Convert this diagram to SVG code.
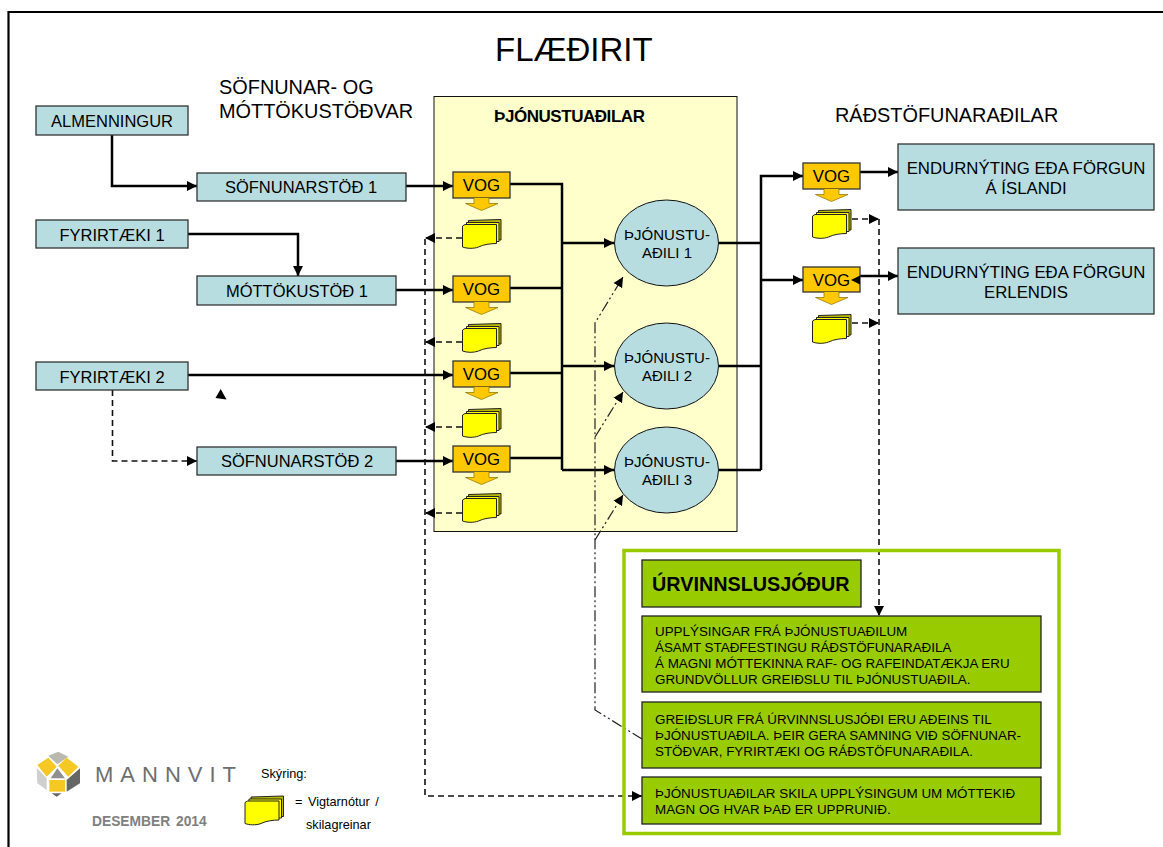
<svg xmlns="http://www.w3.org/2000/svg" width="1163" height="847" viewBox="0 0 1163 847">
<style>
text{font-family:"Liberation Sans",Arial,sans-serif;fill:#000}
.box{fill:#b7dde1;stroke:#333;stroke-width:1.3}
.vog{fill:#ffc800;stroke:#333;stroke-width:1.3}
.grn{fill:#99cc00;stroke:#222;stroke-width:1.3}
.n{font-size:16.5px;text-anchor:middle}
.v{font-size:16.8px;text-anchor:middle}
.e{font-size:15px;text-anchor:middle}
.r{font-size:16.8px;text-anchor:middle}
.t{font-size:13.4px}
.h{font-size:19.9px}
.l{fill:none;stroke:#000;stroke-width:2.5}
.a{marker-end:url(#ah)}
.d{fill:none;stroke:#111;stroke-width:1.6;stroke-dasharray:6 4}
.dd{fill:none;stroke:#222;stroke-width:1.2;stroke-dasharray:11 3 2 3 2 3}
.s{font-size:12.7px}
</style>
<defs>
<marker id="ah" markerUnits="userSpaceOnUse" markerWidth="11" markerHeight="11" refX="10" refY="5.500" orient="auto"><path d="M0 .5L10 5.500L0 10.500Z" fill="#000"/></marker>
<symbol id="doc" overflow="visible">
<path d="M6 1L38.500 0V20.500H6Z" fill="#b8b800" stroke="#222"/>
<path d="M4 3H36.500V22H4Z" fill="#ffff00" stroke="#222"/>
<path d="M0 6.500L2.500 5H34V24C28 24 21 25 16 27.500C11 29.500 4 29 0 27.500Z" fill="#ffff00" stroke="#222"/>
</symbol>
<symbol id="dn" overflow="visible">
<path d="M21 0V5.500H12.500L28.500 12.500L45 5.500H36V0" fill="#ffc800" stroke="#8a6d00" stroke-width=".7"/>
</symbol>
</defs>
<rect width="1163" height="847" fill="#fff"/>
<path d="M8.500 847V12H1163" fill="none" stroke="#000" stroke-width="2.200"/>
<g id="titles">
<text x="495" y="61" font-size="33">FLÆÐIRIT</text>
<text class="h" x="219" y="94">SÖFNUNAR- OG</text>
<text class="h" x="219" y="118">MÓTTÖKUSTÖÐVAR</text>
<text class="h" x="835" y="122">RÁÐSTÖFUNARAÐILAR</text>
</g>
<g id="panel">
<rect x="434" y="96.500" width="303" height="435" fill="#ffffcc" stroke="#111" stroke-width="1"/>
<text x="494" y="122" font-size="17" font-weight="bold" letter-spacing="-.45">ÞJÓNUSTUAÐILAR</text>
</g>
<g id="connectors">
<path class="l a" d="M112 135V186H197"/>
<path class="l a" d="M406 186H453"/>
<path class="l a" d="M188 234H298V276"/>
<path class="l a" d="M396 290H453"/>
<path class="l a" d="M188 375H453"/>
<path class="l a" d="M396 461H453"/>
<path class="d a" d="M112.500 390V461H197"/>
<path class="l" d="M510 184H562V470"/>
<path class="l" d="M510 288H562M510 373H562M510 458H562"/>
<path class="l a" d="M562 243H614"/>
<path class="l a" d="M562 366H614"/>
<path class="l a" d="M562 470H614"/>
<path class="l" d="M719 243H761M719 366H761M719 470H761"/>
<path class="l a" d="M761 470V176H803"/>
<path class="l a" d="M761 280H803"/>
<path class="l a" d="M860 172H898"/>
<path class="l a" d="M860 276H898"/>
<path class="d a" d="M462 238H425"/>
<path class="d a" d="M462 342H425"/>
<path class="d a" d="M462 427H425"/>
<path class="d a" d="M462 513H425"/>
<path class="d a" d="M425 239V796H642"/>
<path class="d a" d="M852 219H879"/>
<path class="d a" d="M852 323H879"/>
<path class="d a" d="M879 219V616"/>
<path class="dd a" d="M642 739L595 710V323L623 277"/>
<path class="dd a" d="M595 437L623 392"/>
<path class="dd a" d="M595 540L623 495"/>
</g>
<g id="almenningur"><rect class="box" x="36" y="106" width="152" height="29"/><text class="n" x="112" y="127">ALMENNINGUR</text></g>
<g id="fyrirtaeki1"><rect class="box" x="36" y="220" width="152" height="28"/><text class="n" x="112" y="241">FYRIRTÆKI 1</text></g>
<g id="fyrirtaeki2"><rect class="box" x="36" y="362" width="152" height="28"/><text class="n" x="112" y="383">FYRIRTÆKI 2</text></g>
<g id="sofnunarstod1"><rect class="box" x="197" y="173" width="209" height="28"/><text class="n" x="301" y="193">SÖFNUNARSTÖÐ 1</text></g>
<g id="mottokustod1"><rect class="box" x="197" y="276" width="199" height="29"/><text class="n" x="297" y="297">MÓTTÖKUSTÖÐ 1</text></g>
<g id="sofnunarstod2"><rect class="box" x="197" y="447" width="199" height="28"/><text class="n" x="297" y="467">SÖFNUNARSTÖÐ 2</text></g>
<g id="vog1"><rect class="vog" x="453" y="172" width="57" height="26"/><text class="v" x="481.500" y="191">VOG</text><use href="#dn" x="453" y="198"/><use href="#doc" x="462.500" y="219.500"/></g>
<g id="vog2"><rect class="vog" x="453" y="276" width="57" height="26"/><text class="v" x="481.500" y="295">VOG</text><use href="#dn" x="453" y="302"/><use href="#doc" x="462.500" y="323.500"/></g>
<g id="vog3"><rect class="vog" x="453" y="361" width="57" height="26"/><text class="v" x="481.500" y="380">VOG</text><use href="#dn" x="453" y="387"/><use href="#doc" x="462.500" y="408.500"/></g>
<g id="vog4"><rect class="vog" x="453" y="446" width="57" height="26"/><text class="v" x="481.500" y="465">VOG</text><use href="#dn" x="453" y="472"/><use href="#doc" x="462.500" y="493.500"/></g>
<g id="vog5"><rect class="vog" x="803" y="163" width="57" height="26"/><text class="v" x="831.500" y="182">VOG</text><use href="#dn" x="803" y="189"/><use href="#doc" x="812.500" y="209.500"/></g>
<g id="vog6"><rect class="vog" x="803" y="267" width="57" height="25"/><text class="v" x="831.500" y="286">VOG</text><use href="#dn" x="803" y="292"/><use href="#doc" x="812.500" y="314.500"/><path d="M851 280L860 275.500V284.500Z" fill="#000"/></g>
<g id="ellipse1"><ellipse cx="666.500" cy="243" rx="52" ry="43" fill="#b7dde1" stroke="#111" stroke-width="1"/><text class="e" x="667" y="240">ÞJÓNUSTU-</text><text class="e" x="667" y="258">AÐILI 1</text></g>
<g id="ellipse2"><ellipse cx="666.500" cy="366" rx="52" ry="43" fill="#b7dde1" stroke="#111" stroke-width="1"/><text class="e" x="667" y="363">ÞJÓNUSTU-</text><text class="e" x="667" y="381">AÐILI 2</text></g>
<g id="ellipse3"><ellipse cx="666.500" cy="470" rx="52" ry="43" fill="#b7dde1" stroke="#111" stroke-width="1"/><text class="e" x="667" y="467">ÞJÓNUSTU-</text><text class="e" x="667" y="485">AÐILI 3</text></g>
<g id="endurnyting-island"><rect class="box" x="898" y="144" width="256" height="66"/><text class="r" x="1026" y="174">ENDURNÝTING EÐA FÖRGUN</text><text class="r" x="1026" y="194">Á ÍSLANDI</text></g>
<g id="endurnyting-erlendis"><rect class="box" x="898" y="248" width="256" height="66"/><text class="r" x="1026" y="278">ENDURNÝTING EÐA FÖRGUN</text><text class="r" x="1026" y="298">ERLENDIS</text></g>
<path d="M220.700 389L215.500 398L226.500 399.500Z" fill="#000"/>
<g id="urvinnslusjodur">
<rect x="624" y="550.500" width="435" height="283" fill="none" stroke="#99cc00" stroke-width="3.500"/>
<rect class="grn" x="642" y="560" width="219" height="47"/>
<text x="652" y="591" font-size="19.800" font-weight="bold">ÚRVINNSLUSJÓÐUR</text>
</g>
<g id="upplysingar"><rect class="grn" x="642" y="616" width="399" height="76"/>
<text class="t" x="655" y="636">UPPLÝSINGAR FRÁ ÞJÓNUSTUAÐILUM</text>
<text class="t" x="655" y="652">ÁSAMT STAÐFESTINGU RÁÐSTÖFUNARAÐILA</text>
<text class="t" x="655" y="668">Á MAGNI MÓTTEKINNA RAF- OG RAFEINDATÆKJA ERU</text>
<text class="t" x="655" y="684">GRUNDVÖLLUR GREIÐSLU TIL ÞJÓNUSTUAÐILA.</text></g>
<g id="greidslur"><rect class="grn" x="642" y="702" width="399" height="66"/>
<text class="t" x="655" y="724">GREIÐSLUR FRÁ ÚRVINNSLUSJÓÐI ERU AÐEINS TIL</text>
<text class="t" x="655" y="740">ÞJÓNUSTUAÐILA. ÞEIR GERA SAMNING VIÐ SÖFNUNAR-</text>
<text class="t" x="655" y="756">STÖÐVAR, FYRIRTÆKI OG RÁÐSTÖFUNARAÐILA.</text></g>
<g id="skila"><rect class="grn" x="642" y="777" width="399" height="47"/>
<text class="t" x="655" y="798">ÞJÓNUSTUAÐILAR SKILA UPPLÝSINGUM UM MÓTTEKIÐ</text>
<text class="t" x="655" y="814">MAGN OG HVAR ÞAÐ ER UPPRUNIÐ.</text></g>
<g id="logo">
<g transform="translate(30,745) scale(.3333)">
<path d="M55 32L85 20L115 35L82 58Z" fill="#b9b9b0"/>
<path d="M22 60L55 38L80 65L50 95Z" fill="#f6c824"/>
<path d="M85 62L110 38L145 65L115 95Z" fill="#f6c824"/>
<path d="M82 70L105 100H62Z" fill="#8f8f8f"/>
<path d="M58 105H105V140H58Z" fill="#f6c824"/>
<path d="M20 68L50 100V135L22 115Z" fill="#cfcfcf"/>
<path d="M150 70L110 105V140L150 115Z" fill="#666"/>
<path d="M65 145H95L80 155Z" fill="#666"/>
</g>
<text x="95" y="782" font-size="22" letter-spacing="7" style="fill:#6d6e70">MANNVIT</text>
<text x="92" y="826" font-size="13.800" font-weight="bold" word-spacing="2" style="fill:#808080">DESEMBER 2014</text>
</g>
<g id="legend">
<text class="s" x="261" y="778">Skýring:</text>
<use href="#doc" x="245" y="796"/>
<text class="s" x="295" y="806" word-spacing="2">= Vigtarnótur /</text>
<text class="s" x="306" y="829">skilagreinar</text>
</g>
</svg>
